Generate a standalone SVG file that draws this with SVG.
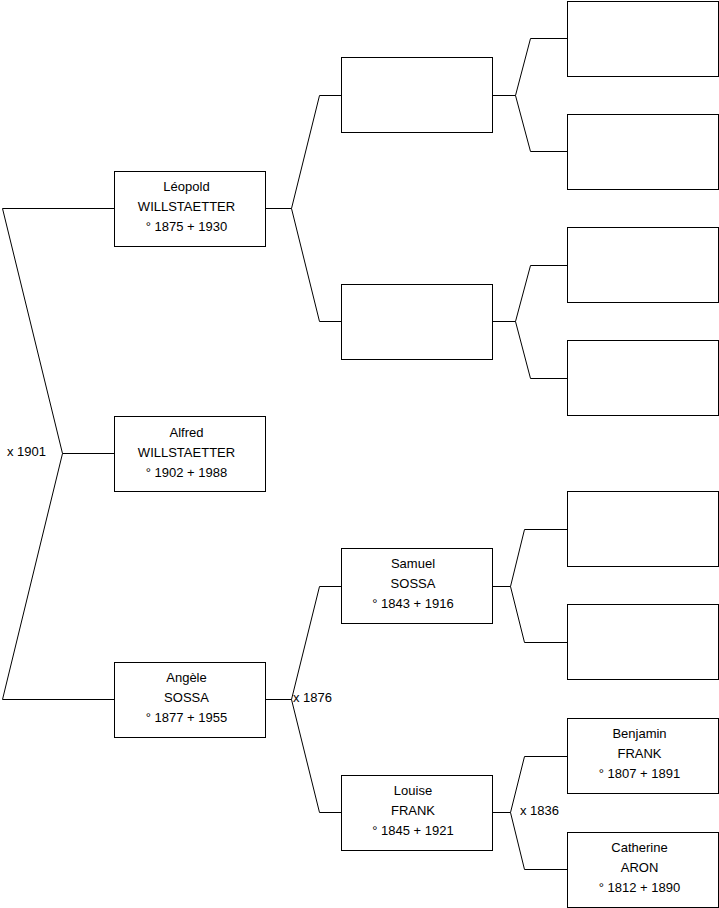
<svg xmlns="http://www.w3.org/2000/svg" width="719" height="908" viewBox="0 0 719 908">
<style>
rect.box{fill:#fff;stroke:#000;stroke-width:1}
.c path{fill:none;stroke:#000;stroke-width:1}
text{font-family:"Liberation Sans",Arial,sans-serif;font-size:13px;fill:#000}
text.n{text-anchor:middle}
</style>
<rect width="719" height="908" fill="#fff"/>
<g class="c" id="connectors">
<path d="M114,208.5 H2.5 L62.5,453.5 L2.5,699.5 H114"/>
<path d="M62.5,453.5 H114"/>
<path d="M265,208.5 H291.5 L319.5,95.5 H341 M291.5,208.5 L319.5,321.5 H341"/>
<path d="M492,95.5 H515.5 L530.5,38.5 H567 M515.5,95.5 L530.5,151.5 H567"/>
<path d="M492,321.5 H515.5 L530.5,265.5 H567 M515.5,321.5 L530.5,378.5 H567"/>
<path d="M265,699.5 H291.5 L319.5,586.5 H341 M291.5,699.5 L319.5,812.5 H341"/>
<path d="M492,586.5 H510.5 L524.5,529.5 H567 M510.5,586.5 L524.5,642.5 H567"/>
<path d="M492,812.5 H510.5 L524.5,756.5 H567 M510.5,812.5 L524.5,869.5 H567"/>
<text x="7" y="456">x 1901</text>
<text x="293" y="702">x 1876</text>
<text x="520" y="815">x 1836</text>
</g>
<g id="leopold"><rect class="box" x="114.5" y="171.5" width="151" height="75"/>
<text class="n" x="186.5" y="191">Léopold</text><text class="n" x="186.5" y="211">WILLSTAETTER</text><text class="n" x="186.5" y="231">° 1875 + 1930</text></g>
<g id="alfred"><rect class="box" x="114.5" y="416.5" width="151" height="75"/>
<text class="n" x="186.5" y="437">Alfred</text><text class="n" x="186.5" y="457">WILLSTAETTER</text><text class="n" x="186.5" y="477">° 1902 + 1988</text></g>
<g id="angele"><rect class="box" x="114.5" y="662.5" width="151" height="75"/>
<text class="n" x="186.5" y="682">Angèle</text><text class="n" x="186.5" y="702">SOSSA</text><text class="n" x="186.5" y="722">° 1877 + 1955</text></g>
<g id="p1"><rect class="box" x="341.5" y="57.5" width="151" height="75"/></g>
<g id="p2"><rect class="box" x="341.5" y="284.5" width="151" height="75"/></g>
<g id="samuel"><rect class="box" x="341.5" y="548.5" width="151" height="75"/>
<text class="n" x="413" y="568">Samuel</text><text class="n" x="413" y="588">SOSSA</text><text class="n" x="413" y="608">° 1843 + 1916</text></g>
<g id="louise"><rect class="box" x="341.5" y="775.5" width="151" height="75"/>
<text class="n" x="413" y="795">Louise</text><text class="n" x="413" y="815">FRANK</text><text class="n" x="413" y="835">° 1845 + 1921</text></g>
<g id="g1"><rect class="box" x="567.5" y="1.5" width="151" height="75"/></g>
<g id="g2"><rect class="box" x="567.5" y="114.5" width="151" height="75"/></g>
<g id="g3"><rect class="box" x="567.5" y="227.5" width="151" height="75"/></g>
<g id="g4"><rect class="box" x="567.5" y="340.5" width="151" height="75"/></g>
<g id="g5"><rect class="box" x="567.5" y="491.5" width="151" height="75"/></g>
<g id="g6"><rect class="box" x="567.5" y="604.5" width="151" height="75"/></g>
<g id="benjamin"><rect class="box" x="567.5" y="718.5" width="151" height="75"/>
<text class="n" x="639.5" y="738">Benjamin</text><text class="n" x="639.5" y="758">FRANK</text><text class="n" x="639.5" y="778">° 1807 + 1891</text></g>
<g id="catherine"><rect class="box" x="567.5" y="832.5" width="151" height="75"/>
<text class="n" x="639.5" y="852">Catherine</text><text class="n" x="639.5" y="872">ARON</text><text class="n" x="639.5" y="892">° 1812 + 1890</text></g>
</svg>
